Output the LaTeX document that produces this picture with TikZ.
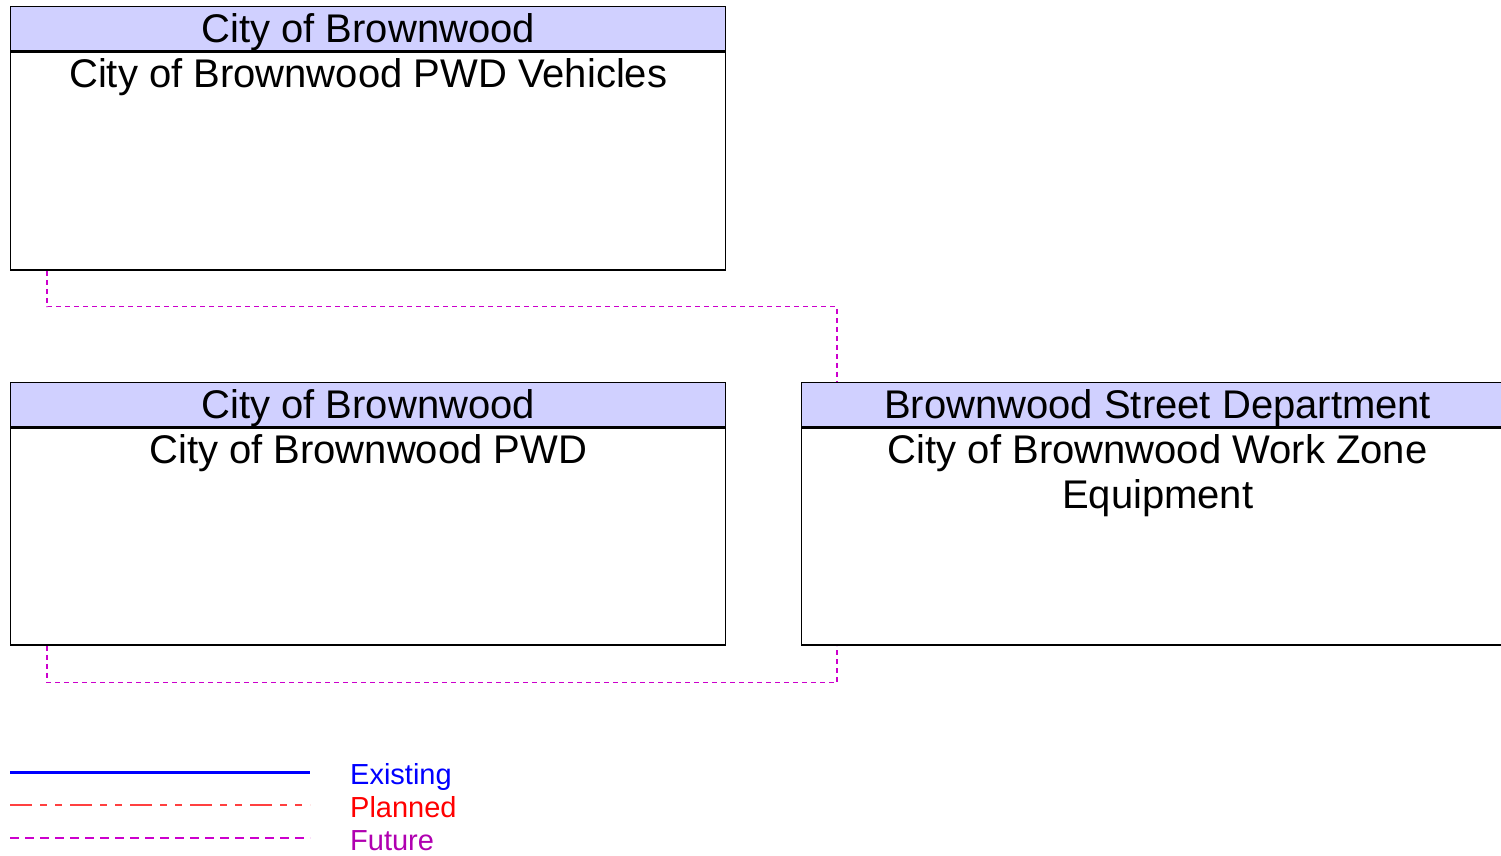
\documentclass[tikz,border=0pt]{standalone}
\usepackage{fontspec}
\setmainfont{Liberation Sans}
\usetikzlibrary{positioning,calc}
\definecolor{hdrfill}{HTML}{D0D0FF}
\definecolor{futureline}{HTML}{CC00CC}
\definecolor{futuretext}{HTML}{B000B0}
\definecolor{plannedline}{HTML}{FF4040}

\tikzset{
  hdrbox/.style={draw=black,line width=1.4pt,fill=hdrfill,anchor=north west,
    minimum height=44pt,inner sep=0pt,text height=30pt,text depth=2pt,
    font=\fontsize{40}{44}\selectfont},
  bodybox/.style={draw=black,line width=1.4pt,fill=white,anchor=north,
    inner sep=0pt},
  bodytext/.style={anchor=north,align=center,inner sep=0pt,
    font=\fontsize{40}{45}\selectfont},
  futureflow/.style={futureline,line width=1.3pt,dash pattern=on 5pt off 4pt},
  legendtext/.style={anchor=base west,inner sep=0pt,font=\fontsize{29}{32}\selectfont}
}

\begin{document}
\begin{tikzpicture}[x=1pt,y=-1pt]
  \useasboundingbox (0,0) rectangle (1501,855);

  % PWD vehicles
  \node[hdrbox,minimum width=715pt] (vehH) at (10,6) {City of Brownwood};
  \node[bodybox,minimum width=715pt,minimum height=218pt] (veh) at (vehH.south) {};
  \node[bodytext,below=7pt of vehH] (vehT) {City of Brownwood PWD Vehicles};

  % PWD
  \node[hdrbox,minimum width=715pt] (pwdH) at (10,382) {City of Brownwood};
  \node[bodybox,minimum width=715pt,minimum height=217pt] (pwd) at (pwdH.south) {};
  \node[bodytext,below=7pt of pwdH] (pwdT) {City of Brownwood PWD};

  % work zone equipment
  \node[hdrbox,minimum width=712pt] (wzH) at (801,382) {Brownwood Street Department};
  \node[bodybox,minimum width=712pt,minimum height=217pt] (wz) at (wzH.south) {};
  \node[bodytext,below=7pt of wzH] (wzT) {City of Brownwood Work Zone\\Equipment};

  % flows
  \coordinate (vehP) at ($(veh.south west)+(37,0)$);
  \coordinate (wzTop) at ($(wzH.north west)+(36,0)$);
  \draw[futureflow] (vehP) -- ++(0,36) -| (wzTop);
  \coordinate (pwdP) at ($(pwd.south west)+(37,0)$);
  \coordinate (wzBot) at ($(wz.south west)+(36,0)$);
  \draw[futureflow] (pwdP) -- ++(0,37) -| (wzBot);

  % legend
  \coordinate (exA) at (10,772);
  \coordinate (exB) at (310,772);
  \draw[blue,line width=3pt] (exA) -- (exB);
  \node[legendtext,text=blue] (exT) at (350,784) {Existing};
  \coordinate (plA) at (10,805);
  \coordinate (plB) at (310,805);
  \draw[plannedline,line width=1.4pt,
    dash pattern=on 22pt off 8pt on 7pt off 8pt on 7pt off 8pt] (plA) -- (plB);
  \node[legendtext,text=red] (plT) at (350,817) {Planned};
  \coordinate (fuA) at (10,838);
  \coordinate (fuB) at (310,838);
  \draw[futureline,line width=1.4pt,dash pattern=on 9pt off 6pt] (fuA) -- (fuB);
  \node[legendtext,text=futuretext] (fuT) at (350,850) {Future};
\end{tikzpicture}
\end{document}
